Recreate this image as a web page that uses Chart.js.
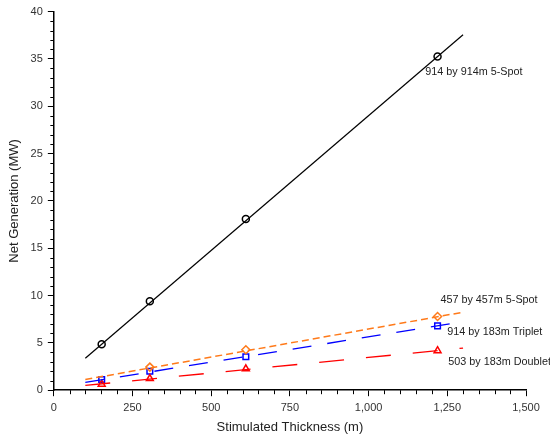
<!DOCTYPE html>
<html>
<head>
<meta charset="utf-8">
<script src="https://cdn.jsdelivr.net/npm/chart.js@4.4.1/dist/chart.umd.min.js"></script>
<style>
  html, body { margin: 0; padding: 0; background: #fff; }
  #wrap { width: 550px; height: 435px; }
</style>
</head>
<body>
<div id="wrap"><canvas id="genChart"></canvas></div>
<script>
// Stimulated thickness (m) at which each case was run
const thickness = [152, 305, 610, 1219];

// Net generation (MW) per well pattern
const spot914 = [4.85, 9.41, 18.08, 35.25];
const spot457 = [null, 2.44, 4.28, 7.78];
const triplet914 = [1.13, 2.0, 3.53, 6.79];
const doublet503 = [0.63, 1.23, 2.26, 4.17];

// Linear trend lines, end points at x = 100 and x = 1300
const trendX = [100, 1300];
const spot914Trend = [3.37, 37.55];
const spot457Trend = [1.13, 8.24];
const triplet914Trend = [0.83, 7.24];
const doublet503Trend = [0.5, 4.45];

// Axis ticks
const xTicks = [0, 250, 500, 750, 1000, 1250, 1500];
const yTicks = [0, 5, 10, 15, 20, 25, 30, 35, 40];

// Curve labels (text, anchored in data coordinates)
const curveLabels = [
    { text: '914 by 914m 5-Spot', x: 1180, y: 33.6 },
    { text: '457 by 457m 5-Spot', x: 1228, y: 9.5 },
    { text: '914 by 183m Triplet', x: 1250, y: 6.1 },
    { text: '503 by 183m Doublet', x: 1253, y: 3.0 }
];

const FONT = "Arial, 'Liberation Sans', sans-serif";

const toXY = (xs, ys) => xs.map((x, i) => ({ x: x, y: ys[i] })).filter(p => p.y !== null);

// minor ticks and curve labels
const extras = {
    id: 'extras',
    afterDraw(chart) {
        const ctx = chart.ctx;
        const xs = chart.scales.x;
        const ys = chart.scales.y;
        ctx.save();
        ctx.strokeStyle = '#000';
        ctx.lineWidth = 1;
        ctx.beginPath();
        for (let v = 0; v <= 1500; v += 50) {
            if (v % 250 === 0) continue;
            const px = Math.round(xs.getPixelForValue(v)) + 0.5;
            ctx.moveTo(px, ys.bottom);
            ctx.lineTo(px, ys.bottom + 4);
        }
        for (let v = 0; v <= 40; v += 1) {
            if (v % 5 === 0) continue;
            const py = Math.round(ys.getPixelForValue(v)) + 0.5;
            ctx.moveTo(xs.left, py);
            ctx.lineTo(xs.left - 3.5, py);
        }
        ctx.stroke();

        ctx.fillStyle = '#222';
        ctx.font = '10.8px ' + FONT;
        ctx.textAlign = 'left';
        ctx.textBaseline = 'middle';
        curveLabels.forEach(l => {
            ctx.fillText(l.text, xs.getPixelForValue(l.x), ys.getPixelForValue(l.y));
        });
        ctx.restore();
    }
};

const markerSet = (data, color, style, radius) => ({
    data: data,
    showLine: false,
    pointStyle: style,
    pointRadius: radius,
    pointBorderColor: color,
    pointBackgroundColor: 'rgba(0,0,0,0)',
    pointBorderWidth: 1.5,
    borderColor: color
});

const trendSet = (data, color, dash, width) => ({
    data: data,
    showLine: true,
    pointRadius: 0,
    borderColor: color,
    borderWidth: width,
    borderDash: dash,
    fill: false
});

const ctx = document.getElementById('genChart').getContext('2d');
new Chart(ctx, {
    type: 'scatter',
    data: {
        datasets: [
            trendSet(toXY(trendX, doublet503Trend), '#ff0000', [25, 22], 1.3),
            trendSet(toXY(trendX, triplet914Trend), '#0000ff', [19, 16], 1.3),
            trendSet(toXY(trendX, spot457Trend), '#ff7a1a', [7, 4], 1.5),
            trendSet(toXY(trendX, spot914Trend), '#000000', [], 1.2),
            markerSet(toXY(thickness, doublet503), '#ff0000', 'triangle', 4),
            markerSet(toXY(thickness, spot457), '#ff7a1a', 'rectRot', 4),
            markerSet(toXY(thickness, triplet914), '#0000ff', 'rect', 4),
            markerSet(toXY(thickness, spot914), '#000000', 'circle', 3.5)
        ]
    },
    options: {
        responsive: true,
        maintainAspectRatio: false,
        animation: false,
        layout: { padding: { top: 7.5, right: 24, left: 7, bottom: 0 } },
        plugins: {
            legend: { display: false },
            tooltip: { enabled: false }
        },
        scales: {
            x: {
                type: 'linear',
                min: 0,
                max: 1500,
                afterBuildTicks: axis => { axis.ticks = xTicks.map(v => ({ value: v })); },
                ticks: {
                    color: '#333',
                    font: { family: FONT, size: 11 },
                    padding: 5,
                    maxRotation: 0,
                    callback: v => v.toLocaleString('en-US')
                },
                grid: { drawOnChartArea: false, drawTicks: true, tickLength: 6, color: '#000' },
                border: { display: true, color: '#000', width: 1.5 },
                title: {
                    display: true,
                    text: 'Stimulated Thickness (m)',
                    color: '#222',
                    font: { family: FONT, size: 13 },
                    padding: { top: 0, bottom: 0 }
                }
            },
            y: {
                type: 'linear',
                min: 0,
                max: 40,
                afterBuildTicks: axis => { axis.ticks = yTicks.map(v => ({ value: v })); },
                ticks: {
                    color: '#333',
                    font: { family: FONT, size: 11 },
                    padding: 5
                },
                grid: { drawOnChartArea: false, drawTicks: true, tickLength: 6, color: '#000' },
                border: { display: true, color: '#000', width: 1.5 },
                title: {
                    display: true,
                    text: 'Net Generation (MW)',
                    color: '#222',
                    font: { family: FONT, size: 13 },
                    padding: { top: 0, bottom: 3 }
                }
            }
        }
    },
    plugins: [extras]
});
</script>
</body>
</html>
